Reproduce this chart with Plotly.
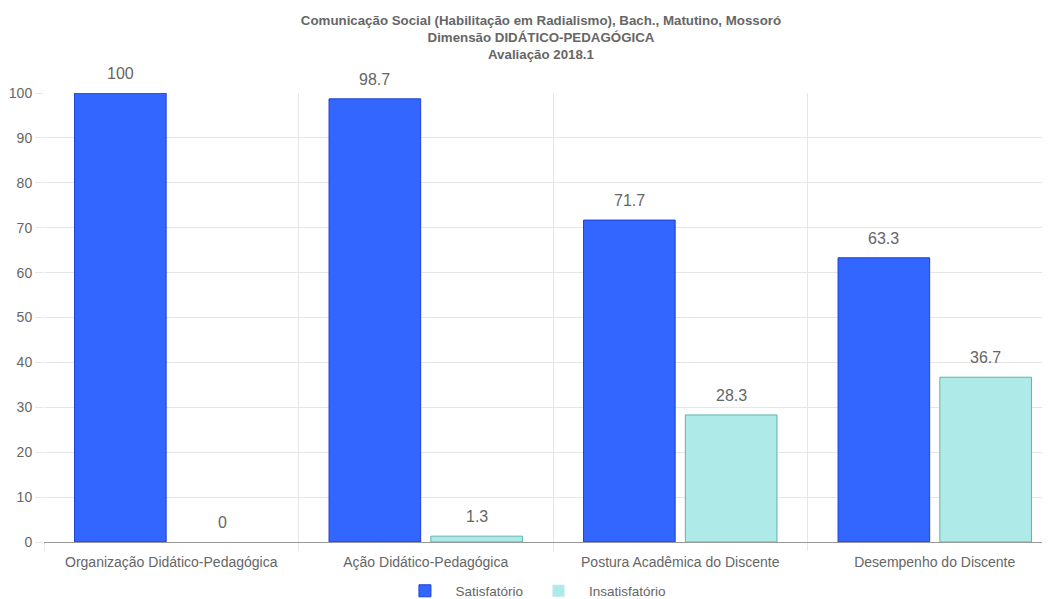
import plotly.graph_objects as go

categories = ["Organização Didático-Pedagógica", "Ação Didático-Pedagógica",
              "Postura Acadêmica do Discente", "Desempenho do Discente"]
satisfatorio = [100, 98.7, 71.7, 63.3]
insatisfatorio = [0, 1.3, 28.3, 36.7]
y_ticks = [0, 10, 20, 30, 40, 50, 60, 70, 80, 90, 100]

x_idx = list(range(len(categories)))
FONT = "Arial, Liberation Sans, sans-serif"
BARGAP = 0.2
series = [("Satisfatório", satisfatorio, "#3366FF", "#1f3fd6"),
          ("Insatisfatório", insatisfatorio, "#AEEAE8", "#5fb3ad")]

fig = go.Figure()
n = len(series)
slot = (1 - BARGAP) / n
for k, (name, vals, fill, border) in enumerate(series):
    fig.add_trace(go.Bar(
        name=name, x=x_idx, y=vals,
        marker=dict(color=fill, line=dict(color=border,
                                          width=[0 if v == 0 else 1 for v in vals])),
    ))
    offset = -(1 - BARGAP) / 2 + slot * (k + 0.5)
    for i, v in zip(x_idx, vals):
        fig.add_annotation(x=i + offset, y=v, text=f"{v:g}", showarrow=False,
                           yanchor="bottom", yshift=9,
                           font=dict(size=16, color="#666666", family=FONT))

# the page body adds an 8px margin, so the figure is offset to fit the window
fig.update_layout(
    width=1050, height=591,
    barmode="group", bargap=BARGAP, bargroupgap=0.1,
    plot_bgcolor="white", paper_bgcolor="white",
    font=dict(family=FONT, size=12, color="#666666"),
    margin=dict(l=36, r=10, t=85, b=57),
    title=dict(
        text="<b>Comunicação Social (Habilitação em Radialismo), Bach., Matutino, Mossoró</b><br>"
             "<b>Dimensão DIDÁTICO-PEDAGÓGICA</b><br><b>Avaliação 2018.1</b>",
        x=0.495, xanchor="center", xref="paper", y=0.9716, yanchor="top",
        font=dict(size=13.3, color="#666666", family=FONT),
    ),
    legend=dict(orientation="h", x=0.487, xanchor="center",
                yref="container", y=0.0135, yanchor="middle",
                itemwidth=51,
                font=dict(size=13.5, color="#666666", family=FONT), traceorder="normal"),
)
fig.update_xaxes(
    # the original chart's last category band runs slightly past the right edge
    range=[-0.5, len(categories) - 0.555], automargin=False,
    tickvals=x_idx, ticktext=categories, showgrid=False,
    ticks="", tickfont=dict(size=14, color="#666666"), ticklabelstandoff=10,
    showline=False,
    minor=dict(tickvals=[i - 0.5 for i in range(len(categories) + 1)],
               showgrid=True, gridcolor="#e6e6e6", gridwidth=1,
               ticks="outside", ticklen=8, tickcolor="#e6e6e6"),
    zeroline=False,
)
fig.update_yaxes(
    range=[0, 100], tickvals=y_ticks, showgrid=True, gridcolor="#e6e6e6",
    automargin=False,
    ticks="outside", ticklen=8, tickcolor="#e6e6e6", ticklabelstandoff=0,
    showline=False,
    zeroline=True, zerolinecolor="#999999", zerolinewidth=1,
    tickfont=dict(size=14, color="#666666"),
)

fig.write_html("out.html")
